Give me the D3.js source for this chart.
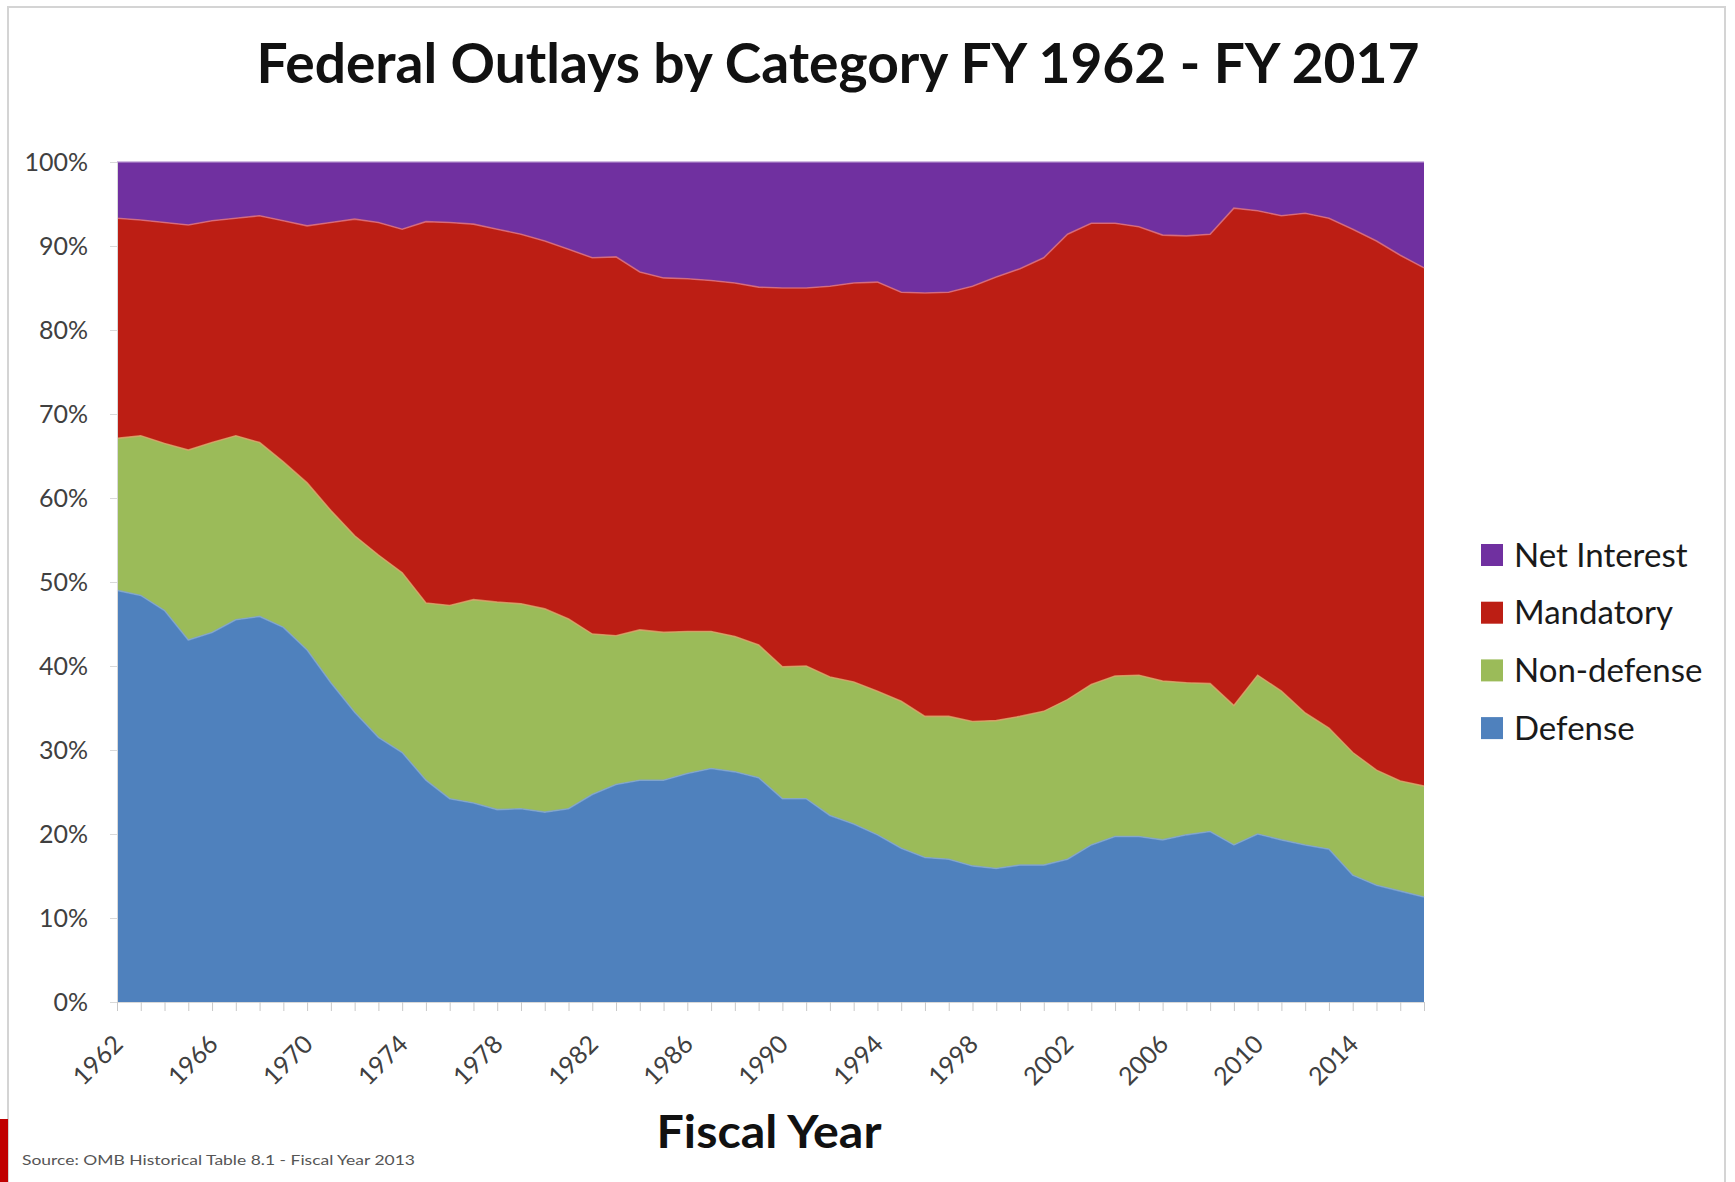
<!DOCTYPE html>
<html>
<head>
<meta charset="utf-8">
<script src="https://cdn.jsdelivr.net/npm/d3@7"></script>
<style>
  body { margin: 0; background: #fff; }
  svg { display: block; font-family: Lato, "Open Sans", sans-serif; }
</style>
</head>
<body>
<svg id="chart" width="1735" height="1182"></svg>
<script>
// --- Data (share of total outlays, %) ---
const years = [1962, 1963, 1964, 1965, 1966, 1967, 1968, 1969, 1970, 1971,
    1972, 1973, 1974, 1975, 1976, 1977, 1978, 1979, 1980, 1981,
    1982, 1983, 1984, 1985, 1986, 1987, 1988, 1989, 1990, 1991,
    1992, 1993, 1994, 1995, 1996, 1997, 1998, 1999, 2000, 2001,
    2002, 2003, 2004, 2005, 2006, 2007, 2008, 2009, 2010, 2011,
    2012, 2013, 2014, 2015, 2016, 2017];

const defense = [49.0, 48.4, 46.6, 43.1, 44.0, 45.5, 45.9, 44.6, 41.9, 38.0,
    34.5, 31.5, 29.7, 26.4, 24.2, 23.7, 22.9, 23.0, 22.6, 23.0,
    24.7, 25.9, 26.4, 26.4, 27.2, 27.8, 27.4, 26.7, 24.2, 24.2,
    22.2, 21.2, 19.9, 18.3, 17.2, 17.0, 16.2, 15.9, 16.3, 16.3,
    17.0, 18.7, 19.7, 19.7, 19.3, 19.9, 20.3, 18.7, 20.0, 19.3,
    18.7, 18.2, 15.1, 13.9, 13.2, 12.5];

const nonDefense = [18.1, 19.0, 19.9, 22.6, 22.6, 21.9, 20.7, 19.7, 19.9, 20.5,
    21.0, 21.7, 21.4, 21.1, 23.0, 24.2, 24.7, 24.4, 24.2, 22.6,
    19.1, 17.7, 17.9, 17.6, 16.9, 16.3, 16.1, 15.8, 15.7, 15.8,
    16.5, 16.9, 17.1, 17.5, 16.8, 17.0, 17.2, 17.6, 17.7, 18.3,
    19.0, 19.1, 19.1, 19.2, 18.9, 18.1, 17.6, 16.6, 18.9, 17.7,
    15.7, 14.4, 14.6, 13.7, 13.1, 13.2];

const mandatory = [26.2, 25.7, 26.3, 26.8, 26.4, 25.9, 27.0, 28.7, 30.6, 34.3,
    37.7, 39.6, 40.9, 45.4, 45.6, 44.7, 44.4, 44.0, 43.8, 44.0,
    44.8, 45.1, 42.6, 42.2, 42.0, 41.8, 42.1, 42.6, 45.1, 45.0,
    46.5, 47.5, 48.7, 48.7, 50.4, 50.5, 51.8, 52.8, 53.3, 54.0,
    55.4, 54.9, 53.9, 53.4, 53.1, 53.2, 53.5, 59.2, 55.3, 56.6,
    59.5, 60.7, 62.3, 63.0, 62.6, 61.7];

const netInterest = [6.7, 6.9, 7.2, 7.5, 7.0, 6.7, 6.4, 7.0, 7.6, 7.2,
    6.8, 7.2, 8.0, 7.1, 7.2, 7.4, 8.0, 8.6, 9.4, 10.4,
    11.4, 11.3, 13.1, 13.8, 13.9, 14.1, 14.4, 14.9, 15.0, 15.0,
    14.8, 14.4, 14.3, 15.5, 15.6, 15.5, 14.8, 13.7, 12.7, 11.4,
    8.6, 7.3, 7.3, 7.7, 8.7, 8.8, 8.6, 5.5, 5.8, 6.4,
    6.1, 6.7, 8.0, 9.4, 11.1, 12.6];

const seriesKeys = ["Defense", "Non-defense", "Mandatory", "Net Interest"];
const seriesColors = ["#4f81bd", "#9bbb59", "#bc1e14", "#7030a0"];
const edgeColors = ["#7ea3d3", "#d8a86a", "#e0707a", "#b490d0"];
const yTicks = [0, 10, 20, 30, 40, 50, 60, 70, 80, 90, 100];
const xLabelYears = [1962, 1966, 1970, 1974, 1978, 1982, 1986, 1990, 1994, 1998, 2002, 2006, 2010, 2014];

// --- Layout ---
const svg = d3.select("#chart");
const plot = { left: 117, right: 1424, top: 162, bottom: 1002 };

// frame and small red tab
svg.append("rect").attr("x", 8).attr("y", 7).attr("width", 1717).attr("height", 1190)
    .attr("fill", "none").attr("stroke", "#d4d4d4").attr("stroke-width", 2);
svg.append("rect").attr("x", 0).attr("y", 1119).attr("width", 8).attr("height", 63).attr("fill", "#c00000");

const x = d3.scaleLinear().domain([years[0], years[years.length - 1]]).range([plot.left, plot.right]);
const y = d3.scaleLinear().domain([0, 100]).range([plot.bottom, plot.top]);

const table = years.map((yr, i) => ({
    year: yr,
    "Defense": defense[i],
    "Non-defense": nonDefense[i],
    "Mandatory": mandatory[i],
    "Net Interest": netInterest[i]
}));

const stacked = d3.stack().keys(seriesKeys)(table);

const area = d3.area()
    .x(d => x(d.data.year))
    .y0(d => y(d[0]))
    .y1(d => y(d[1]));

const topLine = d3.line()
    .x(d => x(d.data.year))
    .y(d => y(d[1]));

svg.append("g").attr("class", "areas").selectAll("path").data(stacked).enter().append("path")
    .attr("d", area)
    .attr("fill", (d, i) => seriesColors[i]);

svg.append("g").attr("class", "edges").selectAll("path").data(stacked).enter().append("path")
    .attr("d", topLine)
    .attr("fill", "none")
    .attr("stroke", (d, i) => edgeColors[i])
    .attr("stroke-width", 1.6)
    .attr("opacity", 0.8);

// --- Axes ---
const yAxis = svg.append("g").attr("transform", `translate(${plot.left},0)`)
    .call(d3.axisLeft(y).tickValues(yTicks).tickFormat(d => d + "%").tickSize(7).tickPadding(22));
yAxis.select(".domain").attr("stroke", "#d9d9d9");
yAxis.selectAll(".tick line").attr("stroke", "#d9d9d9");
yAxis.selectAll("text").attr("font-size", 25).attr("fill", "#404040").attr("font-family", "Lato, sans-serif");

const xAxis = svg.append("g").attr("transform", `translate(0,${plot.bottom})`)
    .call(d3.axisBottom(x).tickValues(years).tickSize(9)
        .tickFormat(d => xLabelYears.includes(d) ? String(d) : ""));
xAxis.select(".domain").attr("stroke", "#d9d9d9");
xAxis.selectAll(".tick line").attr("stroke", "#c8c8c8");
xAxis.selectAll("text")
    .attr("font-size", 25).attr("fill", "#404040").attr("font-family", "Lato, sans-serif")
    .attr("text-anchor", "end")
    .attr("x", -26).attr("y", 27).attr("dy", "0.35em")
    .attr("transform", "rotate(-45)");

// --- Titles ---
svg.append("text").attr("x", 838).attr("y", 83).attr("text-anchor", "middle")
    .attr("font-size", 56).attr("font-weight", "bold").attr("fill", "#111")
    .attr("textLength", 1163).attr("lengthAdjust", "spacingAndGlyphs")
    .text("Federal Outlays by Category FY 1962 - FY 2017");

svg.append("text").attr("x", 769).attr("y", 1148).attr("text-anchor", "middle")
    .attr("font-size", 46).attr("font-weight", "bold").attr("fill", "#111")
    .attr("textLength", 225).attr("lengthAdjust", "spacingAndGlyphs")
    .text("Fiscal Year");

svg.append("text").attr("x", 22).attr("y", 1165)
    .attr("font-size", 14).attr("fill", "#555")
    .attr("textLength", 393).attr("lengthAdjust", "spacingAndGlyphs")
    .text("Source: OMB Historical Table 8.1 - Fiscal Year 2013");

// --- Legend (top to bottom: Net Interest first) ---
const legend = svg.append("g").attr("class", "legend");
const legendItems = seriesKeys.map((k, i) => ({ key: k, color: seriesColors[i] })).reverse();
const row = legend.selectAll("g").data(legendItems).enter().append("g")
    .attr("transform", (d, i) => `translate(1481,${555 + i * 57.7})`);
row.append("rect").attr("x", 0).attr("y", -11).attr("width", 22).attr("height", 22).attr("fill", d => d.color);
row.append("text").attr("x", 33).attr("y", 0).attr("dy", "0.35em")
    .attr("font-size", 33).attr("fill", "#1a1a1a").text(d => d.key);
</script>
</body>
</html>
